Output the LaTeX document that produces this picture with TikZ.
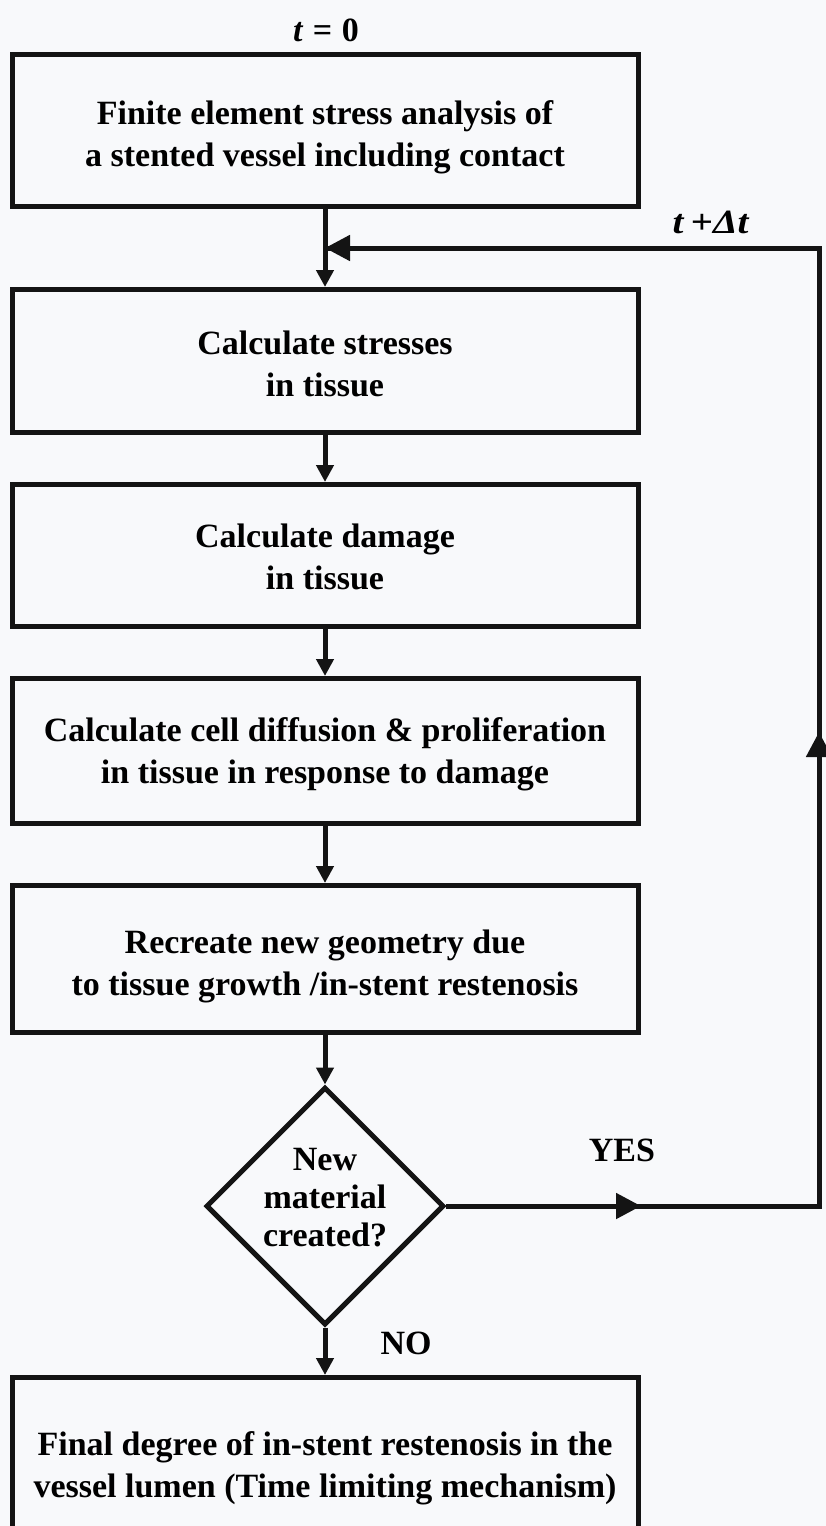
\documentclass[tikz,border=0pt]{standalone}
\usepackage{fontspec}
\setmainfont{Liberation Serif}
\usetikzlibrary{arrows.meta,shapes.geometric}
\definecolor{paper}{RGB}{248,249,251}
\definecolor{ink}{RGB}{20,20,20}
\tikzset{
  box/.style={draw=ink, line width=5pt, rectangle, minimum width=626pt, inner sep=0pt, align=center, font=\bfseries\fontsize{34}{42}\selectfont},
  decision/.style={draw=ink, line width=5pt, diamond, minimum width=235pt, minimum height=233pt, inner sep=0pt, font=\bfseries\fontsize{34}{38}\selectfont},
  lbl/.style={inner sep=0pt, font=\bfseries\fontsize{34}{38}\selectfont},
  flow/.style={draw=ink, line width=5pt, -{Triangle[length=17pt,width=17pt]}},
  plain/.style={draw=ink, line width=5pt},
  bigtip/.style={draw=ink, line width=5pt, -{Triangle[length=25pt,width=25pt]}}
}
\newcommand{\shifttext}[2]{\raisebox{#1}[\height][\depth]{\begin{tabular}{@{}c@{}}#2\end{tabular}}}
\begin{document}
\begin{tikzpicture}[x=1pt,y=-1pt]
\fill[paper] (0,0) rectangle (826,1526);
\useasboundingbox (0,0) rectangle (826,1526);

\node[lbl] (t0) at (326,30) {\textit{t}\;=\;0};
\node[box, minimum height=152pt] (b1) at (325,130) {\shifttext{-7pt}{Finite element stress analysis of\\a stented vessel including contact}};
\node[box, minimum height=143pt] (b2) at (325,361) {\shifttext{-6pt}{Calculate stresses\\in tissue}};
\node[box, minimum height=142pt] (b3) at (325,555.5) {\shifttext{-5pt}{Calculate damage\\in tissue}};
\node[box, minimum height=145pt] (b4) at (325,751) {\shifttext{-3pt}{Calculate cell diffusion \& proliferation\\in tissue in response to damage}};
\node[box, minimum height=147pt] (b5) at (325,959) {\shifttext{-7pt}{Recreate new geometry due\\to tissue growth /in-stent restenosis}};
\node[decision] (d) at (325,1206) {\shifttext{5pt}{New\\material\\created?}};
\node[box, minimum height=183pt] (b6) at (325,1469) {\shifttext{1pt}{Final degree of in-stent restenosis in the\\vessel lumen (Time limiting mechanism)}};

\node[lbl] (yes) at (622,1150) {YES};
\node[lbl] (no) at (406,1343) {NO};
\node[lbl] (tdt) at (711,222) {\scalebox{1.15}[1]{\textit{t}\,+\textit{Δt}}};

\coordinate (yesTip) at (641,1206);
\coordinate (c1) at (819,1206);
\coordinate (upTip) at (819,732);
\coordinate (c2) at (819,248);
\coordinate (join) at (325,248);

\draw[flow] (b1.south) -- (b2.north);
\draw[flow] (b2.south) -- (b3.north);
\draw[flow] (b3.south) -- (b4.north);
\draw[flow] (b4.south) -- (b5.north);
\draw[flow] (b5.south) -- (d.north);
\draw[flow] (d.south) -- (b6.north);

\draw[plain] (d.east) -- (c1) -- (c2) -- (join);
\draw[bigtip] (c2) -- (join);
\draw[bigtip] (d.east) -- (yesTip);
\draw[bigtip] (c1) -- (upTip);
\end{tikzpicture}
\end{document}
